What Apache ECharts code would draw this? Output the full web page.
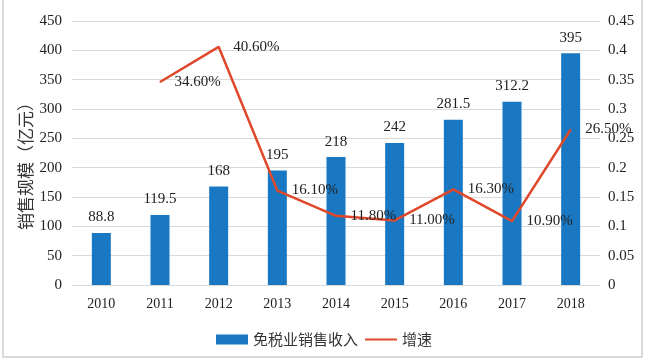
<!DOCTYPE html>
<html><head><meta charset="utf-8">
<script src="https://cdn.jsdelivr.net/npm/echarts@6/dist/echarts.min.js"></script>
<style>html,body{margin:0;padding:0;background:#fff}#c{width:648px;height:360px}</style>
</head><body><div id="c"></div>
<script>
const years = ['2010','2011','2012','2013','2014','2015','2016','2017','2018'];
const sales = [88.8,119.5,168,195,218,242,281.5,312.2,395];
const growth = [null,0.346,0.406,0.161,0.118,0.110,0.163,0.109,0.265];
const leftTicks = {min:0,max:450,interval:50};
const rightTicks = {min:0,max:0.45,interval:0.05};

const chart = echarts.init(document.getElementById('c'));
const serif = '"Liberation Serif","Times New Roman",serif';
chart.setOption({
  animation:false,
  graphic:[{type:'rect',shape:{x:3,y:-2,width:639,height:359},style:{fill:'none',stroke:'#cfcfcf',lineWidth:1.5},silent:true}],
  grid:{left:72,right:48,top:21,bottom:75},
  legend:{bottom:8,left:'center',itemWidth:32,itemHeight:10,itemGap:6,
    textStyle:{fontFamily:'"Noto Sans CJK SC"',fontSize:15,color:'#333'},
    data:[{name:'免税业销售收入',icon:'rect'},{name:'增速',itemStyle:{opacity:0}}]},
  xAxis:{type:'category',data:years,
    axisLine:{lineStyle:{color:'#d9d9d9'}},axisTick:{show:false},
    axisLabel:{fontFamily:serif,fontSize:14,color:'#222',margin:12}},
  yAxis:[{type:'value',min:leftTicks.min,max:leftTicks.max,interval:leftTicks.interval,
    name:'销售规模（亿元）',nameLocation:'middle',nameGap:38,nameRotate:90,nameMoveOverlap:false,
    nameTextStyle:{fontFamily:'"Noto Sans CJK SC"',fontSize:17,color:'#333',padding:[0,18,0,0]},
    axisLabel:{fontFamily:serif,fontSize:15,color:'#222',margin:10},
    splitLine:{lineStyle:{color:'#d9d9d9'}},axisLine:{show:false},axisTick:{show:false}},
   {type:'value',min:rightTicks.min,max:rightTicks.max,interval:rightTicks.interval,
    axisLabel:{fontFamily:serif,fontSize:15,color:'#222',margin:8,formatter:v=>String(+v.toFixed(2))},
    splitLine:{show:false},axisLine:{show:false},axisTick:{show:false}}],
  series:[
    {name:'免税业销售收入',type:'bar',data:sales,barWidth:19,
     itemStyle:{color:'#1a78c2'},
     label:{show:true,position:'top',distance:8,fontFamily:serif,fontSize:15,color:'#222'}},
    {name:'增速',type:'line',yAxisIndex:1,data:growth,symbol:'circle',symbolSize:1,showSymbol:true,
     lineStyle:{color:'#e0482b',width:2.5},itemStyle:{color:'#e0482b'},
     label:{show:true,position:'right',distance:14,fontFamily:serif,fontSize:15,color:'#222',
       formatter:p=>(p.value*100).toFixed(2)+'%'}}
  ]
});
</script></body></html>
